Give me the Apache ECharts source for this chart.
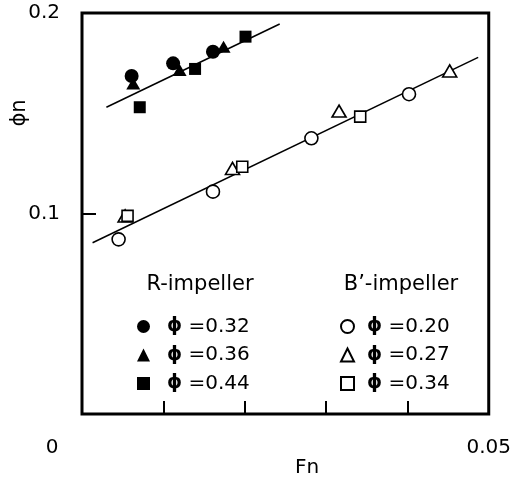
<!DOCTYPE html>
<html>
<head>
<meta charset="utf-8">
<script src="https://cdn.jsdelivr.net/npm/echarts@6/dist/echarts.min.js"></script>
<style>
  html, body { margin: 0; padding: 0; background: #fff; }
  #chart { width: 514px; height: 479px; }
</style>
</head>
<body>
<div id="chart"></div>
<script>
// Flow coefficient phi_n against Froude number Fn, for two impeller types.
// Each point is [Fn, phi_n].
const rPhi032 = [[0.0061, 0.1686], [0.0112, 0.1749], [0.0161, 0.1807]];
const rPhi036 = [[0.0063, 0.1649], [0.0120, 0.1716], [0.0174, 0.1832]];
const rPhi044 = [[0.0071, 0.1530], [0.0139, 0.1721], [0.0201, 0.1882]];

const bPhi020 = [[0.0045, 0.0871], [0.0161, 0.1109], [0.0282, 0.1375], [0.0402, 0.1595]];
const bPhi027 = [[0.0053, 0.0988], [0.0185, 0.1225], [0.0316, 0.1511], [0.0452, 0.1711]];
const bPhi034 = [[0.0056, 0.0988], [0.0197, 0.1233], [0.0342, 0.1483]];

// Fitted straight lines (end points)
const rFit = [[0.0030, 0.1530], [0.0243, 0.1945]];
const bFit = [[0.0013, 0.0854], [0.0487, 0.1779]];

const rNames = ['ϕ =0.32', 'ϕ =0.36', 'ϕ =0.44'];
const bNames = ['ϕ =0.20', 'ϕ =0.27', 'ϕ =0.34'];
const groupTitles = ['R-impeller', 'B’-impeller'];
const xTickLabels = ['0', '0.05'];
const yTickLabels = ['0.1', '0.2'];

const FONT = '"DejaVu Sans", sans-serif';
const chart = echarts.init(document.getElementById('chart'));

function filled(name, data, symbol, size) {
  return {
    name, type: 'scatter', data, symbol, symbolSize: size, z: 5,
    itemStyle: { color: '#000', borderWidth: 0, opacity: 1 }
  };
}
function hollow(name, data, symbol, size) {
  return {
    name, type: 'scatter', data, symbol, symbolSize: size, z: 5,
    itemStyle: { color: '#fff', borderColor: '#000', borderWidth: 1.6, opacity: 1 }
  };
}
function fit(data) {
  return {
    type: 'line', data, symbol: 'none', z: 3, silent: true,
    lineStyle: { color: '#000', width: 1.5 }
  };
}

// Bold phi glyph in the legend entries
const legendText = name => name.replace('ϕ', '{p|ϕ}');
const legendRich = {
  p: { fontFamily: FONT, fontSize: 19, fontWeight: 'bold', color: '#000' }
};

const legendBase = {
  orient: 'vertical',
  padding: 0,
  itemWidth: 13, itemHeight: 13,
  itemGap: 7.5,
  selectedMode: false,
  formatter: legendText
};

chart.setOption({
  animation: false,
  backgroundColor: '#fff',
  grid: {
    left: 82, top: 13, right: 24, bottom: 65,
    show: true, borderColor: '#000', borderWidth: 3
  },
  xAxis: {
    type: 'value', min: 0, max: 0.05, interval: 0.01,
    axisLine: { show: false },
    splitLine: { show: false },
    axisTick: { show: true, inside: true, length: 13, lineStyle: { color: '#000', width: 2 } },
    axisLabel: {
      show: true, margin: 24, showMinLabel: true, showMaxLabel: true,
      color: '#000', fontFamily: FONT, fontSize: 20,
      formatter: v => v === 0 ? '{o|' + xTickLabels[0] + '}'
        : (Math.abs(v - 0.05) < 1e-9 ? xTickLabels[1] : ''),
      rich: { o: { fontFamily: FONT, fontSize: 20, color: '#000', padding: [0, 60, 0, 0] } }
    }
  },
  yAxis: {
    type: 'value', min: 0, max: 0.2, interval: 0.1,
    axisLine: { show: false },
    splitLine: { show: false },
    axisTick: { show: true, inside: true, length: 14, lineStyle: { color: '#000', width: 2 } },
    axisLabel: {
      show: true, margin: 22, showMaxLabel: true,
      color: '#000', fontFamily: FONT, fontSize: 20,
      formatter: v => Math.abs(v - 0.1) < 1e-9 ? yTickLabels[0]
        : (Math.abs(v - 0.2) < 1e-9 ? yTickLabels[1] : '')
    }
  },
  legend: [
    Object.assign({}, legendBase, {
      left: 137, top: 316, data: rNames,
      textStyle: { fontFamily: FONT, fontSize: 20, color: '#000', lineHeight: 21,
        padding: [0, 0, 0, 12], rich: legendRich }
    }),
    Object.assign({}, legendBase, {
      left: 340, top: 316, data: bNames,
      textStyle: { fontFamily: FONT, fontSize: 20, color: '#000', lineHeight: 21,
        padding: [0, 0, 0, 8], rich: legendRich }
    })
  ],
  graphic: [
    { type: 'text', x: 200, y: 285, silent: true,
      style: { text: groupTitles[0], font: '21px ' + FONT, fill: '#000', align: 'center', verticalAlign: 'middle' } },
    { type: 'text', x: 401, y: 285, silent: true,
      style: { text: groupTitles[1], font: '21px ' + FONT, fill: '#000', align: 'center', verticalAlign: 'middle' } },
    { type: 'text', x: 307, y: 468, silent: true,
      style: { text: 'Fn', font: '20px ' + FONT, fill: '#000', align: 'center', verticalAlign: 'middle' } },
    { type: 'text', x: 20, y: 113, rotation: Math.PI / 2, silent: true,
      style: { text: 'ϕn', font: '21px ' + FONT, fill: '#000', align: 'center', verticalAlign: 'middle' } }
  ],
  series: [
    fit(rFit),
    fit(bFit),
    filled(rNames[0], rPhi032, 'circle', 14),
    filled(rNames[1], rPhi036, 'triangle', [14, 12]),
    filled(rNames[2], rPhi044, 'rect', 12),
    hollow(bNames[0], bPhi020, 'circle', 13),
    hollow(bNames[1], bPhi027, 'triangle', [14, 12]),
    hollow(bNames[2], bPhi034, 'rect', 11)
  ]
});
</script>
</body>
</html>
